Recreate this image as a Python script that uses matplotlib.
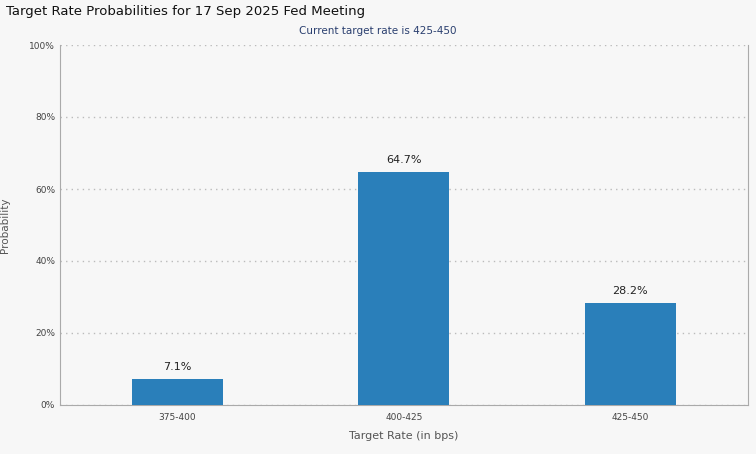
import matplotlib
matplotlib.use("Agg")
import matplotlib.pyplot as plt
from matplotlib.ticker import FuncFormatter

categories = ["375-400", "400-425", "425-450"]
values = [7.1, 64.7, 28.2]
yticks = [0, 20, 40, 60, 80, 100]

fig = plt.figure(figsize=(7.56, 4.54), dpi=100, facecolor="#f7f7f7")
ax = fig.add_axes([60/756, 1-405/454, 688/756, 360/454])
ax.set_facecolor("#f7f7f7")
x = range(len(categories))
ax.bar(x, values, width=0.4, color="#2a7fba", zorder=3)
for xi, v in zip(x, values):
    ax.text(xi, v + 2, f"{v}%", ha="center", va="bottom", fontsize=8, color="#222")
ax.set_xlim(-0.518, 2.52)
ax.set_ylim(0, 100)
ax.set_yticks(yticks)
ax.yaxis.set_major_formatter(FuncFormatter(lambda v, p: f"{int(v)}%"))
ax.set_xticks(list(x))
ax.set_xticklabels(categories)
ax.tick_params(labelsize=6.5, colors="#444", length=0)
ax.tick_params(axis="x", pad=6)
ax.grid(axis="y", linestyle=(0, (1, 3)), color="#bbbbbb", linewidth=1, zorder=0)
for s in ["top"]:
    ax.spines[s].set_visible(False)
for s in ["left", "bottom", "right"]:
    ax.spines[s].set_color("#aaaaaa")
ax.set_xlabel("Target Rate (in bps)", fontsize=8, color="#555", labelpad=6)
ax.set_ylabel("Probability", fontsize=7.5, color="#555", labelpad=14)
fig.text(6/756, 1-11/454, "Target Rate Probabilities for 17 Sep 2025 Fed Meeting",
         fontsize=9.5, ha="left", va="center", color="#111")
fig.text(378/756, 1-31/454, "Current target rate is 425-450", fontsize=7.5,
         ha="center", va="center", color="#2a3f6f")
fig.savefig("out.png", dpi=100, facecolor=fig.get_facecolor())
